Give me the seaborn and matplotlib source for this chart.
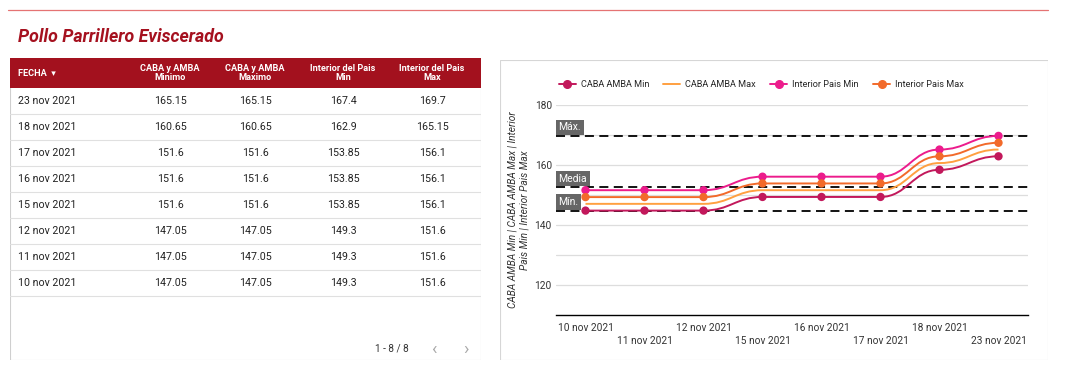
import matplotlib.pyplot as plt
import seaborn as sns
import pandas as pd
import numpy as np
from matplotlib.path import Path
from matplotlib.patches import PathPatch, Rectangle

# table data
fechas = ['23 nov 2021', '18 nov 2021', '17 nov 2021', '16 nov 2021',
          '15 nov 2021', '12 nov 2021', '11 nov 2021', '10 nov 2021']
caba_minimo = ['165.15', '160.65', '151.6', '151.6', '151.6', '147.05', '147.05', '147.05']
caba_maximo = ['165.15', '160.65', '151.6', '151.6', '151.6', '147.05', '147.05', '147.05']
interior_min = ['167.4', '162.9', '153.85', '153.85', '153.85', '149.3', '149.3', '149.3']
interior_max = ['169.7', '165.15', '156.1', '156.1', '156.1', '151.6', '151.6', '151.6']
headers = ['FECHA  \u25BE', 'CABA y AMBA\nMinimo', 'CABA y AMBA\nMaximo',
           'Interior del Pais\nMin', 'Interior del Pais\nMax']

# chart data
dias = ['10 nov 2021', '11 nov 2021', '12 nov 2021', '15 nov 2021',
        '16 nov 2021', '17 nov 2021', '18 nov 2021', '23 nov 2021']
caba_amba_min = [144.8, 144.8, 144.8, 149.35, 149.35, 149.35, 158.4, 162.9]
caba_amba_max = [147.05, 147.05, 147.05, 151.6, 151.6, 151.6, 160.65, 165.15]
interior_pais_min = [151.6, 151.6, 151.6, 156.1, 156.1, 156.1, 165.15, 169.7]
interior_pais_max = [149.3, 149.3, 149.3, 153.85, 153.85, 153.85, 162.9, 167.4]

# reference lines as shown on the chart
ref_labels = ['M\u00e1x.', 'Media', 'M\u00edn.']
ref_values = [169.7, 152.6, 144.8]

series = {
    'CABA AMBA Min': (caba_amba_min, '#c2185b', True),
    'CABA AMBA Max': (caba_amba_max, '#ffa040', False),
    'Interior Pais Min': (interior_pais_min, '#ec1c8c', True),
    'Interior Pais Max': (interior_pais_max, '#f26a2a', True),
}

sns.set_style('white')
plt.rcParams['font.family'] = ['Roboto', 'DejaVu Sans']

W, H = 1068, 378
fig = plt.figure(figsize=(W / 100, H / 100), dpi=100)
fig.patch.set_facecolor('white')

def fx(px):
    return px / W

def fy(py):
    return 1 - py / H

# top red rule + title
fig.add_artist(plt.Line2D([fx(8), fx(1048)], [fy(10), fy(10)], color='#e57373', lw=0.9))
fig.text(fx(18), fy(37), 'Pollo Parrillero Eviscerado', color='#a5111f',
         fontsize=12.8, fontweight='bold', fontstyle='italic', va='center')

# ---- table panel ----
tx = fig.add_axes([fx(10), fy(360), fx(471), fy(58) - fy(360)])
tx.set_xlim(10, 481)
tx.set_ylim(360, 58)
tx.axis('off')
tx.add_patch(Rectangle((10, 58), 471, 302, fc='white', ec='#cfcfcf', lw=0.8))
tx.add_patch(Rectangle((10, 58), 471, 30, fc='#a3111e', ec='none'))
col_x = [18, 170, 255, 343, 432]
for i, h in enumerate(headers):
    tx.text(col_x[i], 73, h, color='white', fontsize=6.6, fontweight='bold',
            ha='left' if i == 0 else 'center', va='center', linespacing=1.0)
cols = [fechas, caba_minimo, caba_maximo, interior_min, interior_max]
for r in range(len(fechas)):
    yc = 101 + r * 26
    for c, vals in enumerate(cols):
        tx.text(col_x[c], yc, vals[r], color='#222222', fontsize=7.7,
                ha='left' if c == 0 else 'center', va='center')
    tx.plot([10, 481], [114 + r * 26, 114 + r * 26], color='#e0e0e0', lw=0.8)
tx.text(392, 349, '1 - 8 / 8', fontsize=7.2, color='#333333', ha='center', va='center')
tx.text(434, 349, '\u2039', fontsize=13, color='#aaaaaa', ha='center', va='center')
tx.text(466, 349, '\u203A', fontsize=13, color='#aaaaaa', ha='center', va='center')

# ---- chart panel ----
bg = fig.add_axes([fx(500), fy(360), fx(548), fy(60) - fy(360)])
bg.set_xlim(0, 1)
bg.set_ylim(0, 1)
bg.axis('off')
bg.add_patch(Rectangle((0, 0), 1, 1, fc='white', ec='#d6d6d6', lw=0.8))

ax = fig.add_axes([fx(556), fy(315), fx(1028) - fx(556), fy(105) - fy(315)])
rows = []
for name, (vals, color, mk) in series.items():
    for d, v in zip(dias, vals):
        rows.append({'dia': d, 'valor': v, 'serie': name})
df = pd.DataFrame(rows)

pos = np.arange(len(dias))
for name, (vals, color, mk) in series.items():
    # smooth curve through the points (bezier segments in data coords)
    verts = [(pos[0], vals[0])]
    codes = [Path.MOVETO]
    for i in range(len(vals) - 1):
        verts += [(pos[i] + 0.45, vals[i]), (pos[i + 1] - 0.45, vals[i + 1]), (pos[i + 1], vals[i + 1])]
        codes += [Path.CURVE4] * 3
    ax.add_patch(PathPatch(Path(verts, codes), fc='none', ec=color, lw=1.4, zorder=3))
    if mk:
        sns.scatterplot(data=df[df['serie'] == name], x='dia', y='valor', color=color,
                        s=36, edgecolor='none', ax=ax, zorder=4, legend=False)

for lab, v in zip(ref_labels, ref_values):
    ax.axhline(v, color='black', lw=1.3, ls=(0, (5, 3)), zorder=2)
    ax.text(0.005, v + 1.2, lab, transform=ax.get_yaxis_transform(), fontsize=7.5,
            color='white', va='bottom', ha='left', zorder=5,
            bbox=dict(boxstyle='square,pad=0.25', fc='#666666', ec='none'))

ax.set_xlim(-0.5, len(dias) - 0.5)
ax.set_ylim(110, 180)
ax.set_yticks([120, 140, 160, 180])
ax.set_yticks([130, 150, 170], minor=True)
ax.grid(axis='y', which='both', color='#dddddd', lw=0.9, zorder=0)
ax.set_xticks(pos)
ax.set_xticklabels([d if i % 2 == 0 else '\n' + d for i, d in enumerate(dias)],
                   linespacing=1.35)
ax.tick_params(axis='both', length=0, labelsize=7.3, labelcolor='#333333')
ax.tick_params(axis='x', pad=6)
ax.tick_params(axis='y', pad=3)
for s in ['top', 'right', 'left']:
    ax.spines[s].set_visible(False)
ax.spines['bottom'].set_color('black')
ax.spines['bottom'].set_linewidth(1.0)
ax.set_xlabel('')
ax.set_ylabel('CABA AMBA Min | CABA AMBA Max | Interior\nPais Min | Interior Pais Max',
              fontsize=7.3, fontstyle='italic', color='#333333', labelpad=4)

handles = []
for name, (vals, color, mk) in series.items():
    handles.append(plt.Line2D([], [], color=color, lw=1.4, marker='o' if mk else None,
                              markersize=5.5, label=name))
ax.legend(handles=handles, loc='lower left', bbox_to_anchor=(-0.002, 1.06), ncol=4,
          frameon=False, fontsize=6.6, handlelength=1.85, columnspacing=1.55,
          handletextpad=0.55, borderaxespad=0)

fig.savefig('out.png', dpi=100)
